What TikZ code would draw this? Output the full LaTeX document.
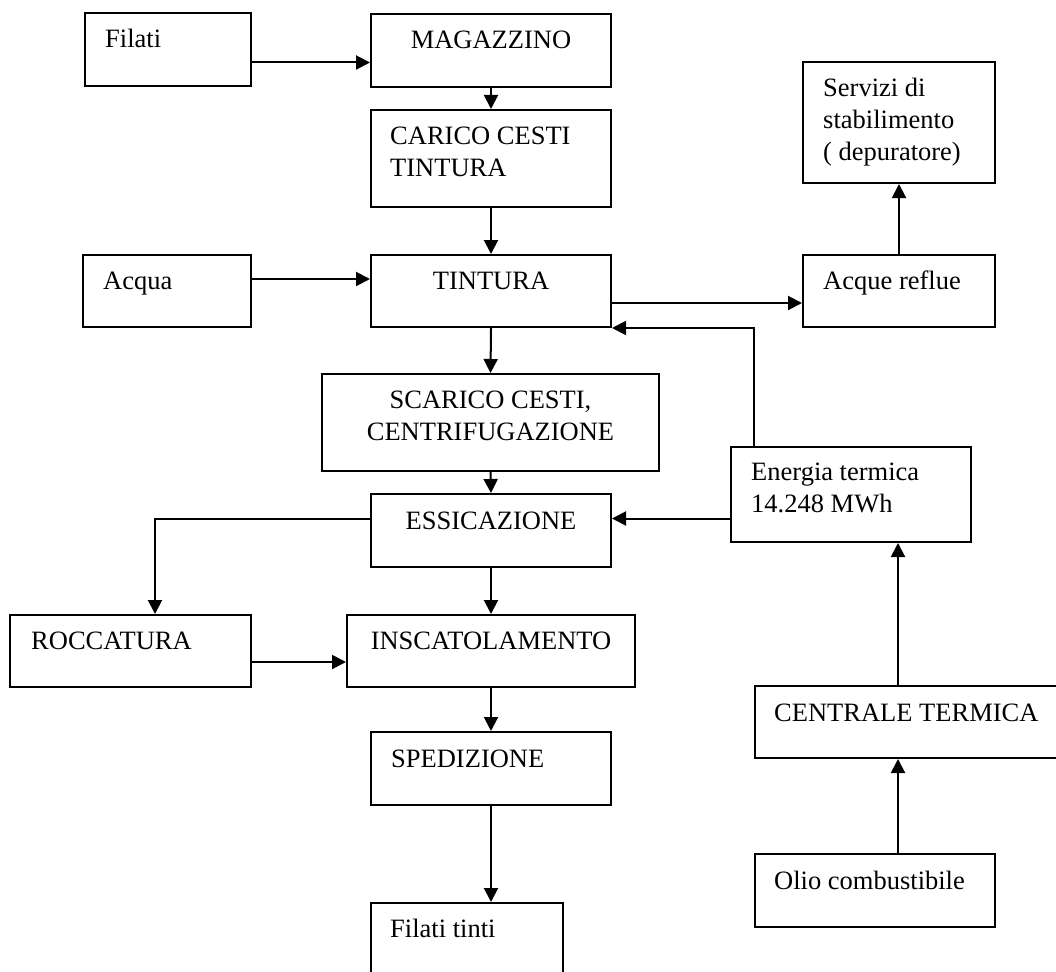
\documentclass[tikz,border=0pt]{standalone}
\usepackage{fontspec}
\setmainfont{Liberation Serif}
\usetikzlibrary{arrows.meta}
\tikzstyle{box}=[rectangle,fill=white,inner sep=0pt,line width=2pt,draw=black,anchor=center]
\tikzstyle{annot}=[inner sep=0pt,align=left,font=\fontsize{26.5}{32}\selectfont]
\tikzstyle{flow}=[line width=2pt,-{Triangle[length=14pt,width=14pt]}]

\begin{document}
\begin{tikzpicture}[x=1pt,y=-1pt]
	\useasboundingbox (0,0) rectangle (1056,971);

	% main line
	\node[box, minimum width=166pt, minimum height=73pt](filati) at (168,49.5){};
	\node[box, minimum width=240pt, minimum height=73pt](mag) at (491,50.5){};
	\node[box, minimum width=240pt, minimum height=97pt](carico) at (491,158.5){};
	\node[box, minimum width=168pt, minimum height=72pt](acqua) at (167,291){};
	\node[box, minimum width=240pt, minimum height=72pt](tintura) at (491,291){};
	\node[box, minimum width=337pt, minimum height=97pt](scarico) at (490.5,422.5){};
	\node[box, minimum width=240pt, minimum height=73pt](ess) at (491,530.5){};
	\node[box, minimum width=241pt, minimum height=72pt](roc) at (130.5,651){};
	\node[box, minimum width=288pt, minimum height=72pt](ins) at (491,651){};
	\node[box, minimum width=240pt, minimum height=73pt](sped) at (491,768.5){};
	\node[box, minimum width=192pt, minimum height=77pt](tinti) at (467,941.5){};

	% services and energy
	\node[box, minimum width=192pt, minimum height=121pt](servizi) at (899,122.5){};
	\node[box, minimum width=192pt, minimum height=72pt](reflue) at (899,291){};
	\node[box, minimum width=240pt, minimum height=95pt](energia) at (851,494.5){};
	\node[box, minimum width=307pt, minimum height=72pt](ct) at (908.5,722){};
	\node[box, minimum width=240pt, minimum height=73pt](olio) at (875,890.5){};

	% texts (multi-line ones sit on their last line)
	\node[annot, anchor=base west](filatitxt) at ([xshift=21pt,yshift=-36pt]filati.north west){Filati};
	\node[annot, anchor=base](magtxt) at ([yshift=-36pt]mag.north){MAGAZZINO};
	\node[annot, anchor=base west](caricotxt) at ([xshift=20pt,yshift=-67pt]carico.north west){CARICO CESTI\\TINTURA};
	\node[annot, anchor=base west](acquatxt) at ([xshift=21pt,yshift=-35pt]acqua.north west){Acqua};
	\node[annot, anchor=base](tinturatxt) at ([yshift=-35pt]tintura.north){TINTURA};
	\node[annot, anchor=base, align=center](scaricotxt) at ([yshift=-67pt]scarico.north){SCARICO CESTI,\\CENTRIFUGAZIONE};
	\node[annot, anchor=base](esstxt) at ([yshift=-36pt]ess.north){ESSICAZIONE};
	\node[annot, anchor=base west](roctxt) at ([xshift=22pt,yshift=-35pt]roc.north west){ROCCATURA};
	\node[annot, anchor=base](instxt) at ([yshift=-35pt]ins.north){INSCATOLAMENTO};
	\node[annot, anchor=base west](spedtxt) at ([xshift=21pt,yshift=-36pt]sped.north west){SPEDIZIONE};
	\node[annot, anchor=base west](tintitxt) at ([xshift=20pt,yshift=-35pt]tinti.north west){Filati tinti};
	\node[annot, anchor=base west](servizitxt) at ([xshift=21pt,yshift=-99pt]servizi.north west){Servizi di\\stabilimento\\( depuratore)};
	\node[annot, anchor=base west](refluetxt) at ([xshift=21pt,yshift=-35pt]reflue.north west){Acque reflue};
	\node[annot, anchor=base west](energiatxt) at ([xshift=21pt,yshift=-66pt]energia.north west){Energia termica\\14.248 MWh};
	\node[annot, anchor=base west](cttxt) at ([xshift=20pt,yshift=-36pt]ct.north west){CENTRALE TERMICA};
	\node[annot, anchor=base west](oliotxt) at ([xshift=20pt,yshift=-36pt]olio.north west){Olio combustibile};

	% connectors
	\coordinate (magin) at ([yshift=-12pt]mag.west);
	\coordinate (tinturain) at ([yshift=12pt]tintura.west);
	\coordinate (refluein) at ([yshift=-12pt]reflue.west);
	\coordinate (essin) at ([yshift=12pt]ess.east);
	\coordinate (essout) at ([yshift=12pt]ess.west);
	\coordinate (insin) at ([yshift=-11pt]ins.west);
	\coordinate (energiaup) at ([xshift=24pt]energia.north west);
	\coordinate (ctin) at ([xshift=144pt]ct.south west);

	\draw[flow] (filati.east |- magin) -- (magin);
	\draw[flow] (mag.south) -- (carico.north);
	\draw[flow] (carico.south) -- (tintura.north);
	\draw[flow] (acqua.east |- tinturain) -- (tinturain);
	\draw[flow] (tintura.east |- refluein) -- (refluein);
	\draw[flow] (reflue.north) -- (servizi.south);
	\draw[flow] (energiaup) |- (tintura.south east);
	\draw[flow] (tintura.south) -- (scarico.north);
	\draw[flow] (scarico.south) -- (ess.north);
	\draw[flow] (energia.west |- essin) -- (essin);
	\draw[flow] (essout) -| ([xshift=24.5pt]roc.north);
	\draw[flow] (ess.south) -- (ins.north);
	\draw[flow] (roc.east |- insin) -- (insin);
	\draw[flow] (ins.south) -- (sped.north);
	\draw[flow] (sped.south) -- (sped.south |- tinti.north);
	\draw[flow] (ct.north -| ctin) -- (ctin |- energia.south);
	\draw[flow] (olio.north -| ctin) -- (ctin);

\end{tikzpicture}
\end{document}
